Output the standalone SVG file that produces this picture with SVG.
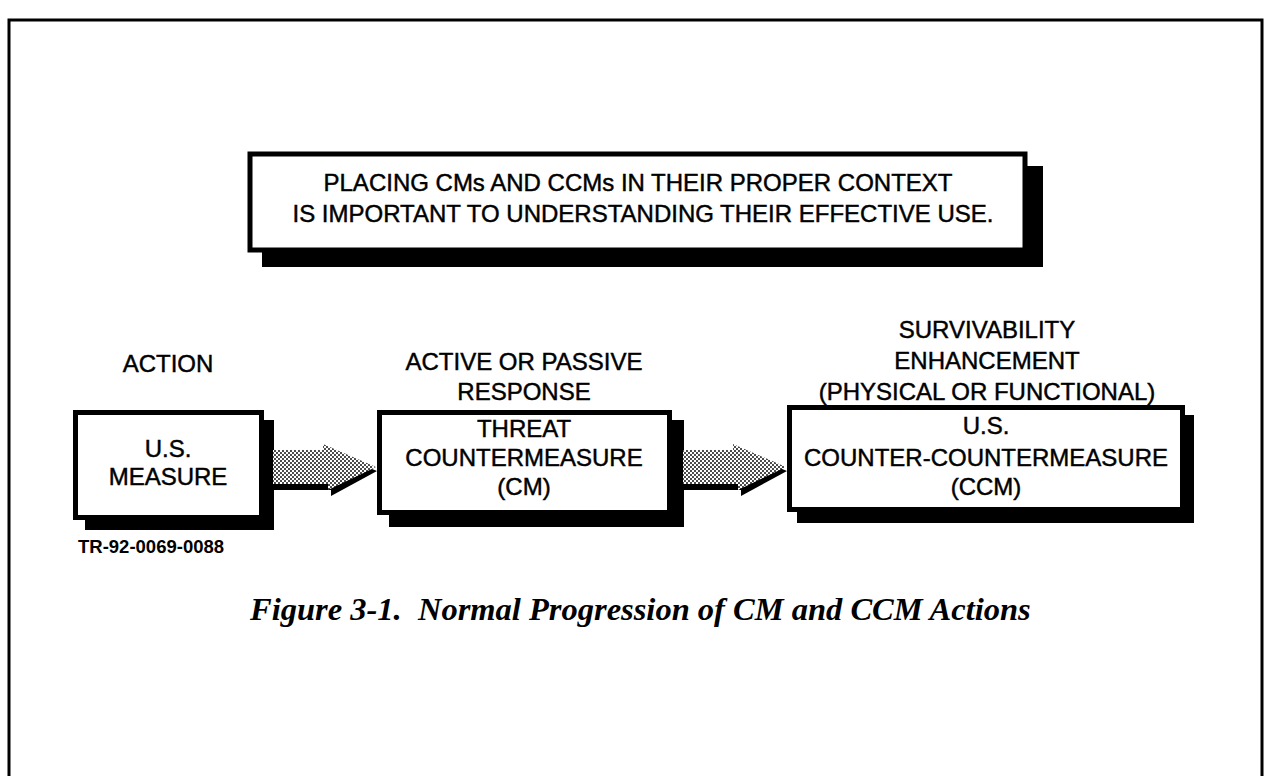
<svg xmlns="http://www.w3.org/2000/svg" width="1271" height="776" viewBox="0 0 1271 776">
<defs>
<pattern id="dots" width="4" height="4" patternUnits="userSpaceOnUse">
<rect width="4" height="4" fill="#fff"/>
<circle cx="1" cy="1" r="0.95" fill="#000"/>
<circle cx="3" cy="3" r="0.95" fill="#000"/>
</pattern>
<style>
.t{font-family:"Liberation Sans",Arial,Helvetica,sans-serif;font-size:24px;fill:#000;stroke:#000;stroke-width:0.45px;text-anchor:middle}
.box{fill:#fff;stroke:#000;stroke-width:5}
.sh{fill:#000}
.cap{font-family:"Liberation Serif","Times New Roman",serif;font-size:32.5px;font-weight:bold;font-style:italic;fill:#000}
</style>
</defs>
<rect width="1271" height="776" fill="#fff"/>
<path d="M9,776 V20 H1262 V776" fill="none" stroke="#000" stroke-width="3"/>

<g id="header">
<rect class="sh" x="262" y="166" width="781" height="101"/>
<rect class="box" x="250" y="154" width="775" height="96" stroke-width="4"/>
<text class="t" x="638" y="191">PLACING CMs AND CCMs IN THEIR PROPER CONTEXT</text>
<text class="t" x="643" y="222">IS IMPORTANT TO UNDERSTANDING THEIR EFFECTIVE USE.</text>
</g>

<g id="label-action"><text class="t" x="168" y="372">ACTION</text></g>
<g id="label-response">
<text class="t" x="524" y="370">ACTIVE OR PASSIVE</text>
<text class="t" x="524" y="400">RESPONSE</text>
</g>
<g id="label-survivability">
<text class="t" x="987" y="338">SURVIVABILITY</text>
<text class="t" x="987" y="369">ENHANCEMENT</text>
<text class="t" x="987" y="400">(PHYSICAL OR FUNCTIONAL)</text>
</g>

<g id="us-measure">
<rect class="sh" x="85" y="420" width="189" height="110"/>
<rect class="box" x="75.5" y="412.5" width="186" height="105"/>
<text class="t" x="168" y="457">U.S.</text>
<text class="t" x="168" y="485">MEASURE</text>
</g>

<g id="threat-cm">
<rect class="sh" x="389" y="420" width="295" height="107"/>
<rect class="box" x="379.5" y="412.5" width="290" height="100"/>
<text class="t" x="524" y="437">THREAT</text>
<text class="t" x="524" y="466">COUNTERMEASURE</text>
<text class="t" x="524" y="495">(CM)</text>
</g>

<g id="us-ccm">
<rect class="sh" x="797" y="415" width="397" height="108"/>
<rect class="box" x="789.5" y="407.5" width="393" height="102"/>
<text class="t" x="986" y="434">U.S.</text>
<text class="t" x="986" y="466">COUNTER-COUNTERMEASURE</text>
<text class="t" x="986" y="495">(CCM)</text>
</g>

<g id="connectors">
<g id="arrow1">
<path class="sh" d="M274,456 L326,456 L326,450 L377,471 L331,496 L331,490 L274,490 Z"/>
<path d="M273,450 L323,450 L323,444 L376,467 L328,490 L328,484 L273,484 Z" fill="url(#dots)"/>
</g>
<g id="arrow2">
<path class="sh" d="M684,456 L736,456 L736,450 L787,471 L741,496 L741,490 L684,490 Z"/>
<path d="M683,450 L733,450 L733,444 L786,467 L738,490 L738,484 L683,484 Z" fill="url(#dots)"/>
</g>
</g>

<g id="ref-id"><text x="78" y="553" font-family="Liberation Sans,Arial,sans-serif" font-size="18.5" font-weight="bold">TR-92-0069-0088</text></g>
<g id="caption"><text class="cap" x="250" y="620" xml:space="preserve">Figure 3-1.  Normal Progression of CM and CCM Actions</text></g>
</svg>
